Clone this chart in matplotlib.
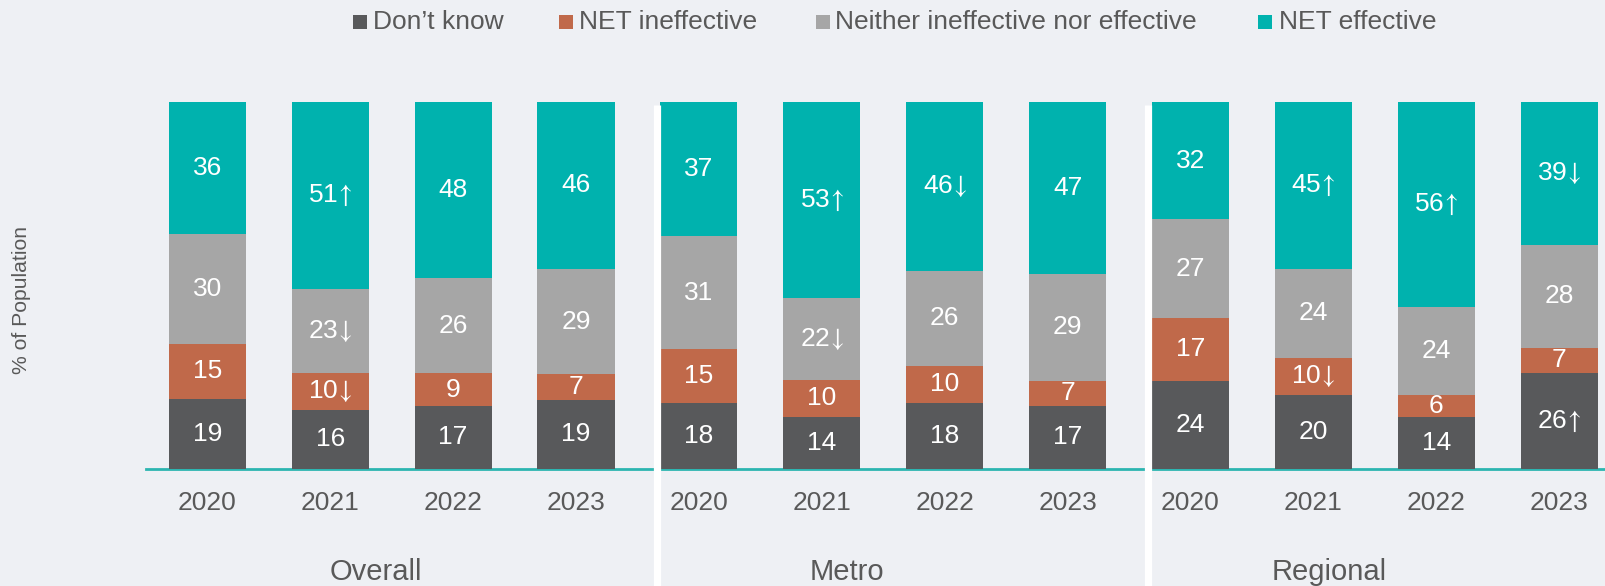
import matplotlib
matplotlib.use("Agg")
import matplotlib.pyplot as plt
import numpy as np
from matplotlib.patches import Rectangle

plt.rcParams['font.family'] = ['Liberation Sans', 'DejaVu Sans']
plt.rcParams['mathtext.fontset'] = 'stixsans'

groups = ["Overall", "Metro", "Regional"]
years = ["2020", "2021", "2022", "2023"]
series = ["Don’t know", "NET ineffective", "Neither ineffective nor effective", "NET effective"]
colors = ["#58595B", "#C0694A", "#A6A6A6", "#00B2AE"]

# values per bar (Overall 2020..2023, Metro 2020..2023, Regional 2020..2023)
dont_know = [19, 16, 17, 19, 18, 14, 18, 17, 24, 20, 14, 26]
net_ineffective = [15, 10, 9, 7, 15, 10, 10, 7, 17, 10, 6, 7]
neither = [30, 23, 26, 29, 31, 22, 26, 29, 27, 24, 24, 28]
net_effective = [36, 51, 48, 46, 37, 53, 46, 47, 32, 45, 56, 39]

# significance markers
dont_know_sig = ["", "", "", "", "", "", "", "", "", "", "", "up"]
net_ineffective_sig = ["", "down", "", "", "", "", "", "", "", "down", "", ""]
neither_sig = ["", "down", "", "", "", "down", "", "", "", "", "", ""]
net_effective_sig = ["", "up", "", "", "", "up", "down", "", "", "up", "up", "down"]

values = [dont_know, net_ineffective, neither, net_effective]
sigs = [dont_know_sig, net_ineffective_sig, neither_sig, net_effective_sig]
arrow = {"": "", "up": r"$\!\uparrow\!$", "down": r"$\!\downarrow\!$"}

W, H = 1605, 586
bg = "#EEF0F4"
txt = "#595959"
fig = plt.figure(figsize=(W / 100, H / 100), dpi=100, facecolor=bg)

base_px = 468.6
top_px = 102.0
left_px = 146.0
ax = fig.add_axes([left_px / W, (H - base_px) / H, 1 - left_px / W, (base_px - top_px) / H])
ax.set_facecolor(bg)

n = len(dont_know)
x = np.arange(n)
spacing_px = 122.9
first_center_px = 207.3
xl = (left_px - first_center_px) / spacing_px
xr = (W - first_center_px) / spacing_px
ax.set_xlim(xl, xr)
ax.set_ylim(0, 100)

width = 0.627
totals = np.sum(np.array(values, dtype=float), axis=0)
bottom = np.zeros(n)
for vals, sig, col in zip(values, sigs, colors):
    h = np.array(vals, dtype=float) / totals * 100
    ax.bar(x, h, width, bottom=bottom, color=col, edgecolor="none", zorder=2)
    for i in range(n):
        ax.text(x[i], bottom[i] + h[i] / 2, f"{vals[i]}{arrow[sig[i]]}", ha="center", va="center",
                color="white", fontsize=19, zorder=3)
    bottom += h

# baseline
ax.axhline(0, color="#2CB5B0", lw=2, zorder=1, clip_on=False)

# separators (white vertical lines left of group starts)
for g in (4, 8):
    sx = g - width / 2 - 3.6 / spacing_px
    ax.plot([sx, sx], [-0.5, 0.992], transform=ax.get_xaxis_transform(), color="white",
            lw=5.2, solid_capstyle="butt", clip_on=False, zorder=4)

for s in ax.spines.values():
    s.set_visible(False)
ax.set_yticks([])
ax.set_xticks(x)
ax.set_xticklabels(years * 3, fontsize=19, color=txt)
ax.tick_params(axis="x", length=0, pad=16)

# group labels
group_label_x = [1.373, 5.203, 9.13]
for gx, gname in zip(group_label_x, groups):
    ax.text(gx, -28.2, gname, ha="center", va="center", fontsize=21, color=txt,
            transform=ax.transData, clip_on=False)

fig.text(22 / W, 1 - 300 / H, "% of Population", rotation=90, ha="center", va="center",
         fontsize=15.2, color=txt)

# legend (manual placement, pixel layout)
sq_left = [353, 559, 816, 1258]
tx_left = [373, 579, 835, 1279]
sq = 14
ly = 22
for sl, tl, c, lab in zip(sq_left, tx_left, colors, series):
    fig.patches.append(Rectangle((sl / W, 1 - (ly + sq / 2) / H), sq / W, sq / H,
                                 transform=fig.transFigure, facecolor=c, edgecolor="none"))
    fig.text(tl / W, 1 - ly / H, lab, ha="left", va="center", fontsize=19, color=txt)

fig.savefig("out.png", dpi=100, facecolor=bg)
